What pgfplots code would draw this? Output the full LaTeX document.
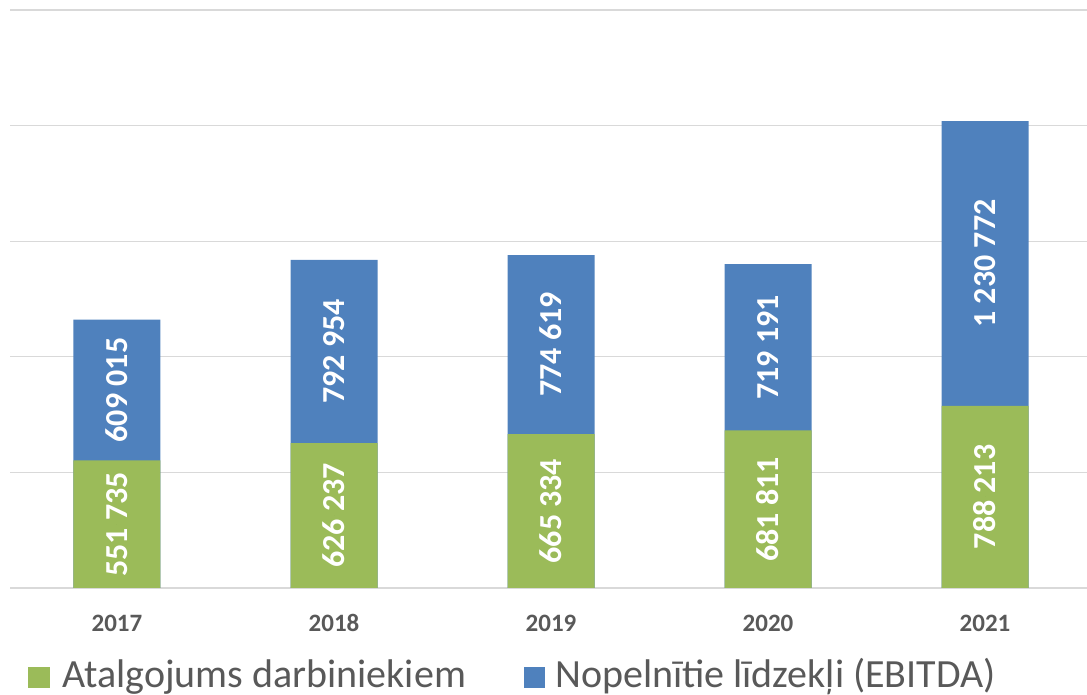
\documentclass[border=0pt]{standalone}
\usepackage{fontspec}
\setmainfont{Carlito}
\usepackage{pgfplots}
\usepackage{pgfplotstable}
\pgfplotsset{compat=1.18}
\definecolor{cgreen}{HTML}{9BBB59}
\definecolor{cblue}{HTML}{4F81BD}
\definecolor{cgrid}{HTML}{D9D9D9}
\definecolor{ctext}{HTML}{595959}
\pgfplotstableread[col sep=comma]{
x,a,b,la,lb
0,551735,609015,551 735,609 015
1,626237,792954,626 237,792 954
2,665334,774619,665 334,774 619
3,681811,719191,681 811,719 191
4,788213,1230772,788 213,1 230 772
}\data
\begin{document}
\begin{tikzpicture}
\useasboundingbox (-10pt,-107pt) rectangle (1077pt,588pt);
\begin{axis}[
  at={(0,0)}, anchor=south west,
  scale only axis, width=1077pt, height=578pt,
  xmin=-0.493, xmax=4.470, ymin=0, ymax=2500000,
  axis line style={draw=none},
  major tick length=0pt,
  ytick={0,500000,1000000,1500000,2000000,2500000},
  yticklabels={}, scaled y ticks=false,
  ymajorgrids, grid style={cgrid, line width=1.2pt},
  xtick={0,1,2,3,4},
  xticklabels={\textbf{2017},\textbf{2018},\textbf{2019},\textbf{2020},\textbf{2021}},
  xticklabel style={font=\bfseries\fontsize{25}{30}\selectfont, text=ctext, anchor=base, yshift=-44pt},
]
\addplot[ybar, bar width=87pt, bar shift=0pt, fill=cblue, draw=none, forget plot]
  table[x=x, y expr=\thisrow{a}+\thisrow{b}]{\data};
\addplot[ybar, bar width=87pt, bar shift=0pt, fill=cgreen, draw=none, forget plot]
  table[x=x, y=a]{\data};
\addplot[draw=none, mark=*, mark size=0pt, mark options={draw=none, fill=none}, forget plot,
  point meta=explicit symbolic, nodes near coords,
  every node near coord/.append style={rotate=90, anchor=center, inner sep=0pt,
    font=\bfseries\fontsize{32}{38}\selectfont, text=white}]
  table[x=x, y expr=\thisrow{a}/2, meta=la]{\data};
\addplot[draw=none, mark=*, mark size=0pt, mark options={draw=none, fill=none}, forget plot,
  point meta=explicit symbolic, nodes near coords,
  every node near coord/.append style={rotate=90, anchor=center, inner sep=0pt,
    font=\bfseries\fontsize{32}{38}\selectfont, text=white}]
  table[x=x, y expr=\thisrow{a}+\thisrow{b}/2, meta=lb]{\data};
\end{axis}
% legend
\fill[cgreen] (18pt,-100pt) rectangle (40pt,-79pt);
\node[anchor=base west, inner sep=0pt, text=ctext, font=\fontsize{40}{48}\selectfont] at (52pt,-100pt) {Atalgojums darbiniekiem};
\fill[cblue] (514pt,-100pt) rectangle (535pt,-79pt);
\node[anchor=base west, inner sep=0pt, text=ctext, font=\fontsize{40}{48}\selectfont] at (545pt,-100pt) {Nopelnītie līdzekļi (EBITDA)};
\end{tikzpicture}
\end{document}
